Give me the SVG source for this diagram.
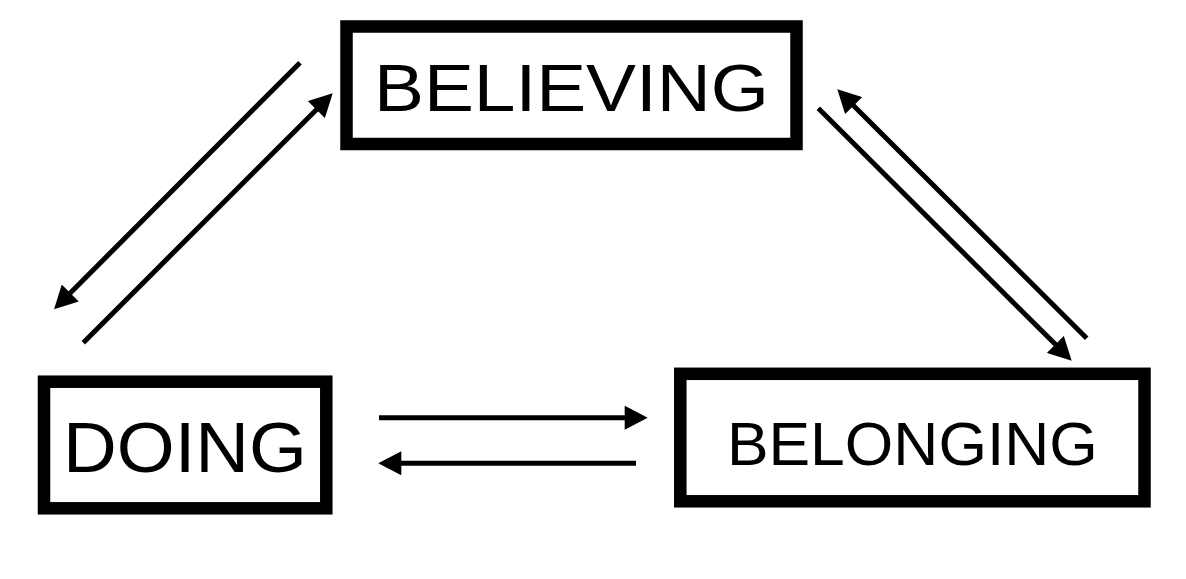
<svg xmlns="http://www.w3.org/2000/svg" width="1186" height="579" viewBox="0 0 1186 579">
<style>
.box{fill:#fff;stroke:#000;stroke-width:12.5}
.lbl{font-family:"Liberation Sans",Arial,Helvetica,sans-serif;fill:#000;text-anchor:middle}
.con{stroke:#000;stroke-width:5;fill:none;marker-end:url(#ah)}
</style>
<defs>
<marker id="ah" markerUnits="userSpaceOnUse" markerWidth="24" markerHeight="24" viewBox="0 0 23 24" refX="13" refY="12" orient="auto">
<path d="M0,0 L23,12 L0,24 Z" fill="#000"/>
</marker>
</defs>
<rect width="1186" height="579" fill="#fff"/>
<g id="connectors">
<line class="con" x1="300" y1="62.7" x2="61.1" y2="302.2"/>
<line class="con" x1="83.3" y1="342.7" x2="325.6" y2="100.4"/>
<line class="con" x1="818.3" y1="108.3" x2="1064.6" y2="353.6"/>
<line class="con" x1="1086.7" y1="338.3" x2="844.4" y2="96.4"/>
<line class="con" x1="379" y1="417.7" x2="637.7" y2="417.7"/>
<line class="con" x1="636" y1="463.3" x2="388.3" y2="463.3"/>
</g>
<g id="believing">
<rect class="box" x="346.5" y="26.5" width="450" height="117.5"/>
<text class="lbl" x="571.5" y="111" font-size="66" textLength="395" lengthAdjust="spacingAndGlyphs">BELIEVING</text>
</g>
<g id="doing">
<rect class="box" x="44" y="381.7" width="282.3" height="126.6"/>
<text class="lbl" x="185" y="471.7" font-size="70" textLength="244" lengthAdjust="spacingAndGlyphs">DOING</text>
</g>
<g id="belonging">
<rect class="box" x="680.3" y="373.8" width="464.2" height="127.5"/>
<text class="lbl" x="912.4" y="465" font-size="61" textLength="371" lengthAdjust="spacingAndGlyphs">BELONGING</text>
</g>
</svg>
